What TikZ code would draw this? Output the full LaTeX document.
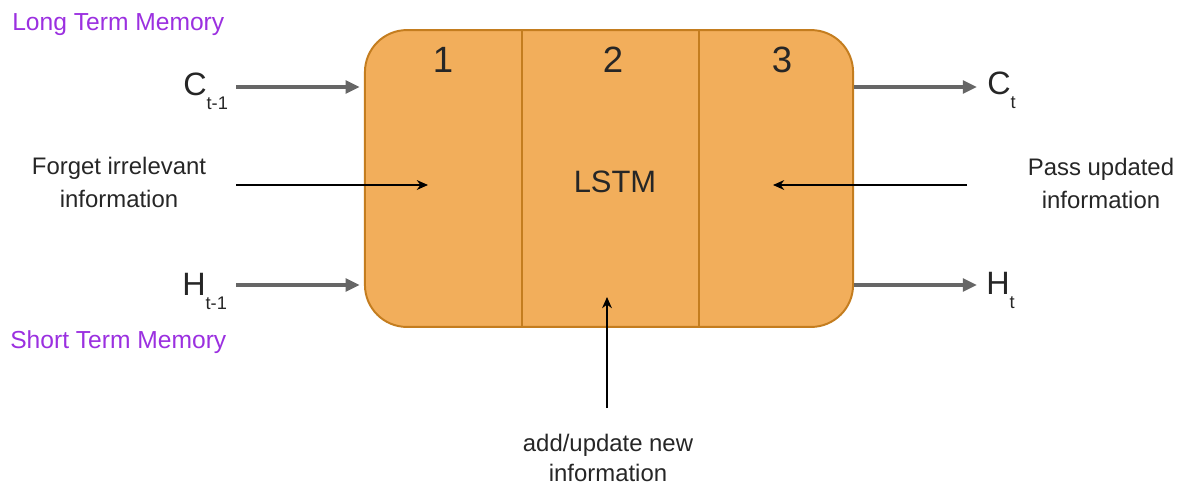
\documentclass[tikz,border=0pt]{standalone}
\usepackage{fontspec}
\setmainfont{Liberation Sans}
\usetikzlibrary{arrows.meta}
\definecolor{cellfill}{HTML}{F2AE5B}
\definecolor{celledge}{HTML}{C47D1F}
\definecolor{memtext}{HTML}{9B30E0}
\definecolor{flowgray}{HTML}{666666}
\definecolor{inktext}{HTML}{262626}
\newcommand{\statelbl}[2]{{\fontsize{23}{26}\selectfont #1}\raisebox{-10.5pt}{\fontsize{13}{14}\selectfont #2}}
\tikzset{
  cell/.style    = {draw=celledge, line width=1.4pt, fill=cellfill,
                    rounded corners=1.05cm, minimum width=12.2cm, minimum height=7.42cm},
  divider/.style = {draw=celledge, line width=1.4pt},
  cellnum/.style = {text=inktext, font=\fontsize{26}{30}\selectfont},
  memflow/.style = {draw=flowgray, line width=2.3pt, -{Triangle[length=10pt,width=9pt]}},
  gate/.style    = {draw=black, line width=0.9pt, -{Stealth[length=8pt,width=7pt]}},
  memlabel/.style= {text=memtext, font=\fontsize{17.5}{21}\selectfont, inner sep=0pt},
  note/.style    = {text=inktext, align=center, font=\fontsize{17}{23.5}\selectfont, inner sep=0pt},
  state/.style   = {text=inktext, anchor=base west, inner sep=0pt}
}

\begin{document}
\begin{tikzpicture}[x=0.025cm, y=-0.025cm]
\useasboundingbox (0,0) rectangle (1187,489);
% the cell and its three gates
\node[cell] (lstm) at (609,178.5) {};
\coordinate (d1) at (522,0);
\coordinate (d2) at (699,0);
\draw[divider] (d1 |- lstm.north) -- (d1 |- lstm.south);
\draw[divider] (d2 |- lstm.north) -- (d2 |- lstm.south);
\node[cellnum] (g1) at (443,60) {1};
\node[cellnum] (g2) at (613,60) {2};
\node[cellnum] (g3) at (782,60) {3};
\node[cellnum, font=\fontsize{22}{26}\selectfont] (name) at (615,182) {LSTM};

% states in and out
\node[memlabel, anchor=west] (ltm) at (12,25) {Long Term Memory};
\node[memlabel, anchor=west] (stm) at (10,342) {Short Term Memory};
\node[state] (cprev) at (183,95) {\statelbl{C}{t-1}};
\node[state] (hprev) at (182,295) {\statelbl{H}{t-1}};
\node[state] (cnext) at (987,94) {\statelbl{C}{t}};
\node[state] (hnext) at (986,294) {\statelbl{H}{t}};
\coordinate (cin) at (236,87);
\coordinate (hin) at (236,285);
\coordinate (cout) at (977,87);
\coordinate (hout) at (977,285);
\draw[memflow, shorten >=3pt] (cin) -- (cin -| lstm.west);
\draw[memflow, shorten >=3pt] (hin) -- (hin -| lstm.west);
\draw[memflow] (cout -| lstm.east) -- (cout);
\draw[memflow] (hout -| lstm.east) -- (hout);

% what each gate does
\node[note] (forget) at (119,182) {Forget irrelevant\\information};
\node[note] (pass)   at (1101,183) {Pass updated\\information};
\node[note, font=\fontsize{17}{21.5}\selectfont] (addnew) at (608,458) {add/update new\\information};
\coordinate (fgo) at (236,185);
\coordinate (fgi) at (428,185);
\coordinate (pso) at (967,185);
\coordinate (psi) at (773,185);
\coordinate (ado) at (607,408);
\coordinate (adi) at (607,297);
\draw[gate] (fgo) -- (fgi);
\draw[gate] (pso) -- (psi);
\draw[gate] (ado) -- (adi);
\end{tikzpicture}
\end{document}
